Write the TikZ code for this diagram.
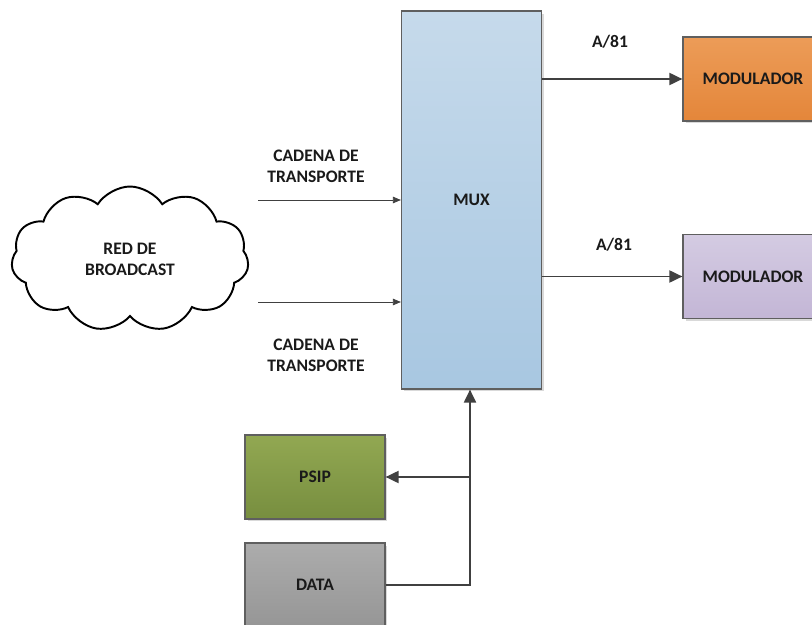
\documentclass[tikz,border=0pt]{standalone}
\usepackage{fontspec}
\setmainfont{Carlito}
\usepackage{xcolor}
\usetikzlibrary{arrows.meta,positioning,shapes.symbols,shadows}
\definecolor{ink}{HTML}{1A1A1A}
\definecolor{edge}{HTML}{5F5F5F}
\definecolor{wire}{HTML}{404040}
\definecolor{muxtop}{HTML}{C6DAEB}
\definecolor{muxbot}{HTML}{A8C7E1}
\definecolor{orgtop}{HTML}{EC9C58}
\definecolor{orgbot}{HTML}{E4863A}
\definecolor{lilactop}{HTML}{D4CBE2}
\definecolor{lilacbot}{HTML}{C3B6D6}
\definecolor{olivetop}{HTML}{92A852}
\definecolor{olivebot}{HTML}{778E3F}
\definecolor{greytop}{HTML}{ACACAC}
\definecolor{greybot}{HTML}{969696}
\tikzset{
  block/.style={draw=edge,line width=.7pt,minimum width=2.8cm,minimum height=1.68cm,
    font=\bfseries\fontsize{10}{12}\selectfont,text=ink,shading=axis,
    drop shadow={shadow xshift=.05cm,shadow yshift=-.05cm,fill=black!25,opacity=.6}},
  tag/.style={font=\bfseries\fontsize{10}{12}\selectfont,text=ink,align=center},
  mainflow/.style={-{Triangle[length=2.6mm,width=2.4mm]},line width=1.1pt,color=wire},
  thinflow/.style={-{Triangle[length=1.6mm,width=1.3mm]},line width=.45pt,color=wire},
}

\begin{document}
\begin{tikzpicture}[x=.02cm,y=-.02cm]
  \useasboundingbox (0,0) rectangle (812,625);

  \node[block,minimum height=7.56cm,top color=muxtop,bottom color=muxbot] (mux) at (471.5,200) {MUX};
  \node[block,top color=orgtop,bottom color=orgbot] (modA) at (753,79) {MODULADOR};
  \node[block,top color=lilactop,bottom color=lilacbot] (modB) at (753,276.5) {MODULADOR};
  \node[block,top color=olivetop,bottom color=olivebot] (psip) at (315,477) {PSIP};
  \node[block,top color=greytop,bottom color=greybot] (data) at (315,585) {DATA};

  \node[cloud,draw=black,line width=1.1pt,cloud puffs=11,cloud puff arc=115,aspect=1.7,
    minimum width=4.75cm,minimum height=2.9cm,tag] (bcast) at (130,259) {RED DE\\BROADCAST};

  % flujos de entrada
  \coordinate (inA) at (258,200);
  \coordinate (inB) at (258,302);
  \draw[thinflow] (inA) -- (inA -| mux.west);
  \draw[thinflow] (inB) -- (inB -| mux.west);
  \node[tag] (cadA) at (316,166) {CADENA DE\\TRANSPORTE};
  \node[tag] (cadB) at (316,355) {CADENA DE\\TRANSPORTE};

  % salidas a moduladores
  \draw[mainflow] (mux.east |- modA) -- (modA.west);
  \draw[mainflow] (mux.east |- modB) -- (modB.west);
  \node[tag] (rateA) at (610,42) {A/81};
  \node[tag] (rateB) at (614,245) {A/81};

  % datos y PSIP
  \coordinate (bus) at (470,585);
  \draw[mainflow] (data.east) -- (bus) -- (bus |- mux.south);
  \draw[mainflow] (bus |- psip.east) -- (psip.east);
\end{tikzpicture}
\end{document}
